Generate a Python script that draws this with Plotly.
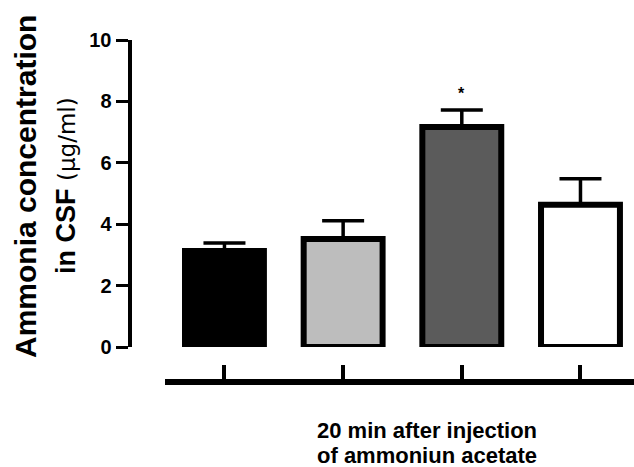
import plotly.graph_objects as go

# ---- data ----
groups = ["Group 1", "Group 2", "Group 3", "Group 4"]
means = [3.13, 3.52, 7.17, 4.63]
sems = [0.26, 0.59, 0.55, 0.85]
fill_colors = ["#000000", "#bdbdbd", "#5b5b5b", "#ffffff"]
significance = ["", "", "*", ""]
y_ticks = [0, 2, 4, 6, 8, 10]
y_tick_labels = ["0", "2", "4", "6", "8", "10"]
y_title_1 = "Ammonia concentration"
y_title_2a = "in CSF "
y_title_2b = "(µg/ml)"
x_title_1 = "20 min after injection"
x_title_2 = "of ammoniun acetate"

W, H = 634, 467
xpos = list(range(len(groups)))


def px_x(p):
    return p / W


def px_y(p):
    return 1 - p / H


fig = go.Figure()
fig.add_trace(go.Bar(
    x=xpos,
    y=means,
    width=0.665,
    marker=dict(color=fill_colors, line=dict(color="#000000", width=6)),
    error_y=dict(type="data", symmetric=False, array=sems,
                 arrayminus=[0] * len(sems), color="#000000",
                 thickness=3.5, width=21),
    showlegend=False,
    hoverinfo="skip",
))

annotations = []
for i, s in enumerate(significance):
    if s:
        annotations.append(dict(
            x=xpos[i], y=means[i] + sems[i] + 0.55, xref="x", yref="y",
            text=s, showarrow=False, xanchor="center", yanchor="middle",
            font=dict(family="Liberation Sans", size=16, color="#000000", weight="bold"),
        ))

annotations += [
    dict(x=px_x(25), y=px_y(187), xref="paper", yref="paper",
         text=y_title_1, textangle=-90, showarrow=False,
         xanchor="center", yanchor="middle",
         font=dict(family="Liberation Sans", size=30, color="#000000", weight="bold")),
    dict(x=px_x(66), y=px_y(186), xref="paper", yref="paper",
         text=y_title_2a + "<span style='font-family:DejaVu Sans;font-weight:normal;font-size:23px'>"
         + y_title_2b + "</span>",
         textangle=-90, showarrow=False,
         xanchor="center", yanchor="middle",
         font=dict(family="Liberation Sans", size=27, color="#000000", weight="bold")),
    dict(x=px_x(427), y=px_y(430), xref="paper", yref="paper",
         text=x_title_1, showarrow=False, xanchor="center", yanchor="middle",
         font=dict(family="Liberation Sans", size=22, color="#000000", weight="bold")),
    dict(x=px_x(427), y=px_y(455), xref="paper", yref="paper",
         text=x_title_2, showarrow=False, xanchor="center", yanchor="middle",
         font=dict(family="Liberation Sans", size=22, color="#000000", weight="bold")),
]

fig.update_layout(
    width=W, height=H,
    margin=dict(l=0, r=0, t=0, b=0, autoexpand=False),
    paper_bgcolor="#ffffff", plot_bgcolor="#ffffff",
    xaxis=dict(
        domain=[px_x(165), 1], range=[-0.501, 3.451],
        anchor="free", position=px_y(382),
        showline=True, linewidth=6, linecolor="#000000",
        ticks="inside", ticklen=14, tickwidth=4, tickcolor="#000000",
        tickvals=xpos, showticklabels=False,
        showgrid=False, zeroline=False, fixedrange=True, automargin=False,
    ),
    yaxis=dict(
        domain=[px_y(347), px_y(40)], range=[0, 10],
        anchor="free", position=px_x(129.5),
        showline=True, linewidth=4, linecolor="#000000",
        ticks="outside", ticklen=12, tickwidth=3, tickcolor="#000000",
        tickvals=y_ticks, ticktext=["<b>" + t + "</b>" for t in y_tick_labels],
        tickfont=dict(family="Liberation Sans", size=20, color="#000000"),
        showgrid=False, zeroline=False, fixedrange=True, automargin=False,
    ),
    annotations=annotations,
)

fig.write_html("out.html")
